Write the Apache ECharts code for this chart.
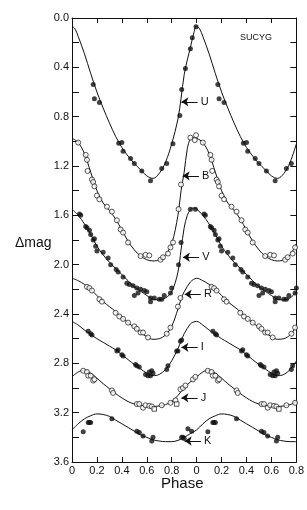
<!DOCTYPE html>
<html>
<head>
<meta charset="utf-8">
<script src="https://cdn.jsdelivr.net/npm/echarts@6/dist/echarts.min.js"></script>
<style>
html,body{margin:0;padding:0;background:#fff;}
#c{width:307px;height:510px;}
</style>
</head>
<body>
<div id="c"></div>
<script>
// ---- tick labels ----
const phaseTickLabels = ['0','0.2','0.4','0.6','0.8','0','0.2','0.4','0.6','0.8'];
const magTickLabels = ['0.0','0.4','0.8','1.2','1.6','2.0','2.4','2.8','3.2','3.6'];

// ---- fitted light curves, one cycle [phase, Δmag] ----
const uCurve = [[0,0.065],[0.025,0.09],[0.05,0.15],[0.1,0.29],[0.15,0.45],[0.2,0.60],[0.25,0.73],[0.3,0.85],[0.35,0.96],[0.4,1.05],[0.45,1.12],[0.5,1.18],[0.55,1.23],[0.6,1.28],[0.65,1.30],[0.7,1.26],[0.75,1.17],[0.8,1.02],[0.85,0.82],[0.875,0.65],[0.9,0.46],[0.925,0.34],[0.95,0.24],[0.975,0.13]];
const bCurve = [[0,0.975],[0.05,1.01],[0.1,1.10],[0.15,1.25],[0.2,1.40],[0.25,1.50],[0.3,1.56],[0.35,1.63],[0.4,1.72],[0.45,1.81],[0.5,1.88],[0.55,1.93],[0.6,1.96],[0.65,1.97],[0.7,1.96],[0.75,1.92],[0.8,1.83],[0.85,1.60],[0.875,1.40],[0.9,1.25],[0.925,1.06],[0.95,0.98],[0.975,0.97]];
const vCurve = [[0,1.55],[0.05,1.60],[0.1,1.67],[0.15,1.755],[0.2,1.85],[0.25,1.92],[0.3,1.98],[0.35,2.03],[0.4,2.08],[0.45,2.13],[0.5,2.18],[0.55,2.215],[0.6,2.25],[0.65,2.28],[0.7,2.285],[0.75,2.27],[0.8,2.22],[0.85,2.06],[0.875,1.88],[0.9,1.70],[0.925,1.60],[0.95,1.555],[0.975,1.54]];
const rCurve = [[0,2.11],[0.05,2.13],[0.1,2.16],[0.15,2.20],[0.2,2.25],[0.25,2.30],[0.3,2.34],[0.35,2.38],[0.4,2.43],[0.45,2.47],[0.5,2.51],[0.55,2.55],[0.6,2.585],[0.65,2.605],[0.7,2.60],[0.75,2.57],[0.8,2.50],[0.85,2.36],[0.875,2.28],[0.9,2.22],[0.95,2.14],[0.975,2.12]];
const iCurve = [[0,2.46],[0.05,2.49],[0.1,2.53],[0.15,2.565],[0.2,2.60],[0.25,2.63],[0.3,2.66],[0.35,2.69],[0.4,2.73],[0.45,2.77],[0.5,2.81],[0.55,2.845],[0.6,2.88],[0.65,2.90],[0.7,2.89],[0.75,2.85],[0.8,2.78],[0.85,2.68],[0.875,2.62],[0.9,2.56],[0.95,2.48],[0.975,2.465]];
const jCurve = [[0,2.91],[0.05,2.87],[0.1,2.855],[0.15,2.88],[0.2,2.92],[0.25,2.965],[0.3,3.005],[0.35,3.045],[0.4,3.08],[0.45,3.11],[0.5,3.13],[0.55,3.14],[0.6,3.15],[0.65,3.15],[0.7,3.145],[0.75,3.135],[0.8,3.11],[0.85,3.06],[0.9,3.00],[0.95,2.95]];
const kCurve = [[0,3.34],[0.05,3.29],[0.1,3.25],[0.15,3.225],[0.2,3.21],[0.25,3.215],[0.3,3.23],[0.35,3.26],[0.4,3.29],[0.45,3.32],[0.5,3.35],[0.55,3.38],[0.6,3.40],[0.65,3.42],[0.7,3.43],[0.75,3.435],[0.8,3.435],[0.85,3.425],[0.9,3.40],[0.95,3.37]];

// ---- observations, one cycle [phase, Δmag] ----
const uPoints = [[0.17,0.54],[0.18,0.655],[0.22,0.685],[0.375,1.015],[0.40,1.01],[0.41,1.08],[0.47,1.14],[0.50,1.18],[0.56,1.24],[0.63,1.32],[0.72,1.22],[0.76,1.18],[0.81,1.02],[0.865,0.79],[0.88,0.58],[0.91,0.41],[0.95,0.25],[0.965,0.16],[0.995,0.07]];
const bPoints = [[0.05,1.01],[0.11,1.11],[0.12,1.15],[0.125,1.24],[0.16,1.31],[0.17,1.33],[0.18,1.365],[0.20,1.44],[0.22,1.47],[0.28,1.53],[0.32,1.57],[0.36,1.64],[0.39,1.715],[0.41,1.74],[0.45,1.82],[0.55,1.93],[0.59,1.92],[0.62,1.925],[0.71,1.96],[0.73,1.94],[0.77,1.91],[0.79,1.86],[0.81,1.82],[0.855,1.55],[0.875,1.35],[0.95,0.97],[0.985,0.99],[0.995,0.95]];
const vPoints = [[0.06,1.59],[0.07,1.60],[0.11,1.69],[0.12,1.70],[0.14,1.72],[0.15,1.755],[0.17,1.80],[0.18,1.79],[0.19,1.85],[0.20,1.89],[0.25,1.90],[0.29,1.945],[0.31,2.0],[0.355,2.04],[0.37,2.06],[0.41,2.10],[0.44,2.15],[0.46,2.16],[0.49,2.17],[0.50,2.25],[0.52,2.19],[0.53,2.23],[0.55,2.20],[0.58,2.21],[0.60,2.22],[0.63,2.27],[0.63,2.30],[0.66,2.27],[0.70,2.28],[0.72,2.28],[0.74,2.25],[0.79,2.23],[0.80,2.19],[0.855,2.0],[0.875,1.82],[0.95,1.55],[0.99,1.55]];
const rPoints = [[0.12,2.18],[0.14,2.19],[0.16,2.21],[0.22,2.28],[0.24,2.30],[0.35,2.39],[0.38,2.42],[0.41,2.44],[0.45,2.47],[0.50,2.50],[0.52,2.52],[0.55,2.55],[0.57,2.55],[0.61,2.59],[0.76,2.56],[0.79,2.51],[0.85,2.34],[0.87,2.27]];
const iPoints = [[0.13,2.54],[0.15,2.56],[0.16,2.57],[0.36,2.70],[0.37,2.69],[0.40,2.73],[0.41,2.74],[0.51,2.81],[0.52,2.82],[0.54,2.83],[0.59,2.89],[0.61,2.90],[0.62,2.87],[0.63,2.90],[0.64,2.86],[0.65,2.88],[0.76,2.85],[0.77,2.82],[0.84,2.70],[0.85,2.70],[0.87,2.62],[0.88,2.61]];
const jPoints = [[0.09,2.86],[0.12,2.87],[0.13,2.90],[0.15,2.90],[0.17,2.94],[0.18,2.93],[0.32,3.02],[0.33,3.04],[0.52,3.13],[0.54,3.13],[0.57,3.16],[0.59,3.14],[0.62,3.145],[0.64,3.15],[0.72,3.14],[0.79,3.12],[0.83,3.10],[0.87,3.01],[0.89,3.00],[0.91,2.98],[0.97,2.93],[0.99,2.91]];
const jSquares = [[0.66,3.17],[0.84,3.13]];
const kPoints = [[0.09,3.355],[0.13,3.28],[0.14,3.28],[0.15,3.28],[0.32,3.25],[0.52,3.35],[0.54,3.36],[0.57,3.39],[0.64,3.43],[0.65,3.40],[0.88,3.40],[0.89,3.40],[0.90,3.41],[0.93,3.33],[0.96,3.35]];

// ---- band labels with arrows ----
const bandNames = ['U','B','V','R','I','J','K'];
const bandArrowMag = [0.68,1.28,1.94,2.24,2.67,3.08,3.43];
const bandArrowTip = [0.878,0.888,0.89,0.904,0.878,0.878,0.904];

const PHASE_MAX = 1.8;
function unfold(pairs){
  const out = [];
  pairs.forEach(([p,m]) => {
    out.push([p,m]);
    if (p + 1 <= PHASE_MAX + 1e-9) out.push([p+1,m]);
  });
  out.sort((a,b)=>a[0]-b[0]);
  return out;
}

const INK = '#111';
const curves = [uCurve,bCurve,vCurve,rCurve,iCurve,jCurve,kCurve];
const series = [];
curves.forEach(c => series.push({
  type:'line', data: unfold(c), showSymbol:false, smooth:0.35, clip:true,
  lineStyle:{color:INK,width:1}, silent:true, z:2
}));
const filled = {symbol:'circle', symbolSize:5, itemStyle:{color:INK}};
const open = {symbol:'circle', symbolSize:5, itemStyle:{color:'#fff', borderColor:INK, borderWidth:0.9}};
[[uPoints,filled],[bPoints,open],[vPoints,filled],[rPoints,open],[iPoints,filled],[jPoints,open],[kPoints,filled]].forEach(([pts,st]) => {
  series.push(Object.assign({type:'scatter', data: unfold(pts), z:3, silent:true}, JSON.parse(JSON.stringify(st))));
});
series.push({type:'scatter', data: unfold(jSquares), symbol:'rect', symbolSize:4.5, z:3, silent:true,
  itemStyle:{color:'#fff', borderColor:INK, borderWidth:0.9}});

// arrows + letters
series.push({
  type:'scatter', data:[], silent:true,
  markLine:{
    silent:true, animation:false,
    symbol:['none','triangle'], symbolSize:[0,[6,7]],
    symbolRotate:[0,90],
    lineStyle:{color:INK, width:1, type:'solid'},
    label:{show:true, position:'start', distance:3, color:INK, fontSize:11,
      fontFamily:'Liberation Sans, Arial, sans-serif', formatter: p => p.name},
    data: bandNames.map((n,i) => [
      {name:n, coord:[bandArrowTip[i]+0.13, bandArrowMag[i]]},
      {coord:[bandArrowTip[i], bandArrowMag[i]], symbol:'arrow', symbolSize:7}
    ])
  }
});

const axisFont = {fontFamily:'Liberation Sans, Arial, sans-serif', fontSize:11, color:INK};
const chart = echarts.init(document.getElementById('c'), null, {renderer:'canvas'});
chart.setOption({
  animation:false,
  backgroundColor:'#fff',
  grid:{left:72, right:10, top:18, bottom:48},
  xAxis:[{
    type:'value', min:0, max:PHASE_MAX, interval:0.2, position:'bottom',
    axisLine:{show:true, onZero:false, lineStyle:{color:INK, width:1}},
    axisTick:{show:true, inside:true, length:5, lineStyle:{color:INK}},
    axisLabel:Object.assign({margin:3, formatter: v => phaseTickLabels[Math.round(v/0.2)] || ''}, axisFont),
    splitLine:{show:false}
  },{
    type:'value', min:0, max:PHASE_MAX, interval:0.2, position:'top',
    axisLine:{show:true, onZero:false, lineStyle:{color:INK, width:1}},
    axisTick:{show:true, inside:true, length:5, lineStyle:{color:INK}},
    axisLabel:{show:false}, splitLine:{show:false}
  }],
  yAxis:[{
    type:'value', min:0, max:3.6, interval:0.2, inverse:true, position:'left',
    axisLine:{show:true, onZero:false, lineStyle:{color:INK, width:1}},
    axisTick:{show:true, inside:true, length:7, lineStyle:{color:INK}},
    axisLabel:Object.assign({margin:3, formatter: v => {
      const k = Math.round(v/0.2); return k % 2 === 0 ? magTickLabels[k/2] : '';
    }}, axisFont),
    splitLine:{show:false}
  },{
    type:'value', min:0, max:3.6, interval:0.2, inverse:true, position:'right',
    axisLine:{show:true, onZero:false, lineStyle:{color:INK, width:1}},
    axisTick:{show:true, inside:true, length:6, lineStyle:{color:INK}},
    axisLabel:{show:false}, splitLine:{show:false}
  }],
  graphic:[
    {type:'text', left:15, top:236, style:{text:'Δmag', font:'14px "Liberation Sans", Arial, sans-serif', fill:INK}},
    {type:'text', left:161, top:476, style:{text:'Phase', font:'15px "Liberation Sans", Arial, sans-serif', fill:INK}},
    {type:'text', left:240, top:33, style:{text:'SUCYG', font:'9px "Liberation Sans", Arial, sans-serif', fill:INK}}
  ],
  series: series
});
</script>
</body>
</html>
